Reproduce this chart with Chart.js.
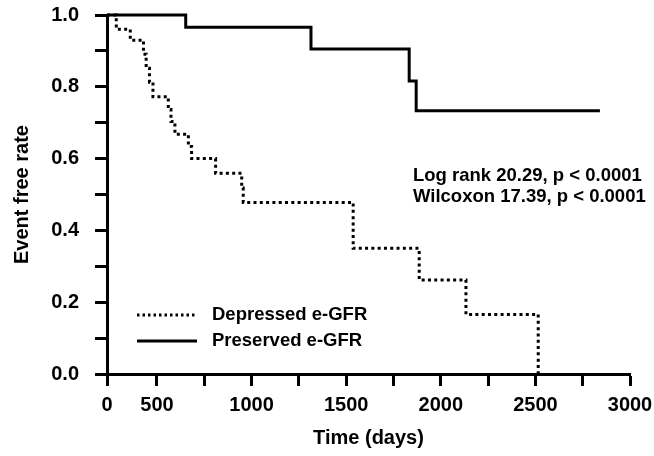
<!DOCTYPE html>
<html>
<head>
<meta charset="utf-8">
<script src="https://cdn.jsdelivr.net/npm/chart.js@4.4.1/dist/chart.umd.min.js"></script>
<style>
  html, body { margin: 0; padding: 0; background: #fff; }
  #wrap { width: 654px; height: 456px; position: relative; }
</style>
</head>
<body>
<div id="wrap"><canvas id="c"></canvas></div>
<script>
// ---- data ----
const depressedDays = [0, 93, 233, 365, 392, 425, 460, 560, 574, 595, 666, 683, 810, 948, 956, 1537, 1886, 2133, 2515];
const depressedSurv = [1.0, 0.96, 0.93, 0.891, 0.852, 0.813, 0.772, 0.737, 0.703, 0.668, 0.634, 0.60, 0.559, 0.518, 0.478, 0.35, 0.262, 0.166, 0.0];
const preservedDays = [0, 652, 1314, 1833, 1870, 2841];
const preservedSurv = [1.0, 0.966, 0.905, 0.816, 0.733, 0.733];
const xTickValues = [0, 500, 750, 1000, 1250, 1500, 1750, 2000, 2250, 2500, 2750, 3000];
const xLabelValues = [0, 500, 1000, 1500, 2000, 2500, 3000];
const seriesNames = ['Depressed e-GFR', 'Preserved e-GFR'];
const statLines = ['Log rank 20.29, p < 0.0001', 'Wilcoxon 17.39, p < 0.0001'];
const xTitle = 'Time (days)';
const yTitle = 'Event free rate';

// ---- axis with a compressed first segment (0-500) ----
const BREAK = 500, RATIO = 0.528;
class BrokenLinearScale extends Chart.LinearScale {
  _f(v) { return v <= BREAK ? v * RATIO : BREAK * RATIO + (v - BREAK); }
  _fi(u) { const b = BREAK * RATIO; return u <= b ? u / RATIO : BREAK + (u - b); }
  getPixelForValue(value) {
    const a = this._f(this.min), b = this._f(this.max);
    return this.getPixelForDecimal((this._f(value) - a) / (b - a));
  }
  getValueForPixel(pixel) {
    const a = this._f(this.min), b = this._f(this.max);
    return this._fi(a + this.getDecimalForPixel(pixel) * (b - a));
  }
}
BrokenLinearScale.id = 'brokenLinear';
BrokenLinearScale.defaults = Chart.LinearScale.defaults;
Chart.register(BrokenLinearScale);

const FONT = '"Liberation Sans", Arial, sans-serif';

const overlay = {
  id: 'overlay',
  afterDraw(chart) {
    const ctx = chart.ctx;
    ctx.save();
    ctx.fillStyle = '#000';
    ctx.font = 'bold 18.5px ' + FONT;
    ctx.textBaseline = 'alphabetic';
    ctx.textAlign = 'left';
    ctx.fillText(statLines[0], 413, 181);
    ctx.fillText(statLines[1], 413, 202);
    // legend
    ctx.strokeStyle = '#000';
    ctx.lineWidth = 3;
    ctx.setLineDash([2.5, 3]);
    ctx.beginPath(); ctx.moveTo(137, 315); ctx.lineTo(197, 315); ctx.stroke();
    ctx.setLineDash([]);
    ctx.beginPath(); ctx.moveTo(137, 341); ctx.lineTo(197, 341); ctx.stroke();
    ctx.textBaseline = 'middle';
    ctx.fillText(seriesNames[0], 212, 315);
    ctx.fillText(seriesNames[1], 212, 341);
    ctx.restore();
  }
};

new Chart(document.getElementById('c'), {
  type: 'line',
  data: {
    datasets: [
      {
        label: seriesNames[0],
        data: depressedDays.map((d, i) => ({ x: d, y: depressedSurv[i] })),
        stepped: 'before',
        borderColor: '#000',
        borderWidth: 3,
        borderDash: [3, 3.3],
        pointRadius: 0,
        fill: false,
        clip: false
      },
      {
        label: seriesNames[1],
        data: preservedDays.map((d, i) => ({ x: d, y: preservedSurv[i] })),
        stepped: 'before',
        borderColor: '#000',
        borderWidth: 3,
        pointRadius: 0,
        fill: false,
        clip: false
      }
    ]
  },
  options: {
    responsive: true,
    maintainAspectRatio: false,
    animation: false,
    devicePixelRatio: 1,
    layout: { padding: { top: 15, right: 24, left: 0, bottom: 0 } },
    plugins: { legend: { display: false }, tooltip: { enabled: false } },
    scales: {
      x: {
        type: 'brokenLinear',
        min: 0, max: 3000,
        afterBuildTicks: (s) => { s.ticks = xTickValues.map(v => ({ value: v })); },
        afterFit: (s) => { s.height = 82; s.paddingLeft = 0; s.paddingRight = 0; },
        border: { display: true, width: 3, color: '#000' },
        grid: { display: true, drawOnChartArea: false, drawTicks: true, tickLength: 12, tickWidth: 3, tickColor: '#000' },
        ticks: {
          autoSkip: false, maxRotation: 0, color: '#000', padding: 7,
          font: { family: FONT, size: 20, weight: 'bold' },
          callback: (v) => xLabelValues.includes(v) ? String(v) : ''
        },
        title: { display: true, text: xTitle, color: '#000', font: { family: FONT, size: 20, weight: 'bold' }, padding: { top: 0, bottom: 6 } }
      },
      y: {
        type: 'linear',
        min: 0, max: 1,
        afterFit: (s) => { s.width = 107; s.paddingTop = 0; s.paddingBottom = 0; },
        border: { display: true, width: 3, color: '#000' },
        grid: { display: true, drawOnChartArea: false, drawTicks: true, tickLength: 12, tickWidth: 3, tickColor: '#000' },
        ticks: {
          stepSize: 0.1, autoSkip: false, color: '#000', padding: 16,
          font: { family: FONT, size: 20, weight: 'bold' },
          callback: (v) => (Math.round(v * 10) % 2 === 0) ? v.toFixed(1) : ''
        },
        title: { display: true, text: yTitle, color: '#000', font: { family: FONT, size: 20, weight: 'bold' }, padding: { top: 10, bottom: 0 } }
      }
    }
  },
  plugins: [overlay]
});
</script>
</body>
</html>
